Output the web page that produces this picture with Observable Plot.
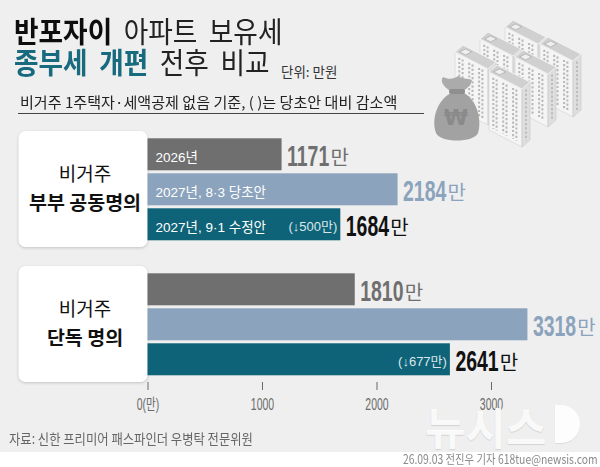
<!DOCTYPE html>
<html><head><meta charset="utf-8">
<script src="https://cdn.jsdelivr.net/npm/d3@7"></script>
<script src="https://cdn.jsdelivr.net/npm/@observablehq/plot@0.6"></script>
<style>
body{margin:0;background:#efefef}
#wrap{position:relative;width:600px;height:467px;background:#efefef;overflow:hidden;font-family:"Noto Sans CJK KR","Noto Sans",sans-serif}
.abs{position:absolute;white-space:nowrap}
#t1,#t2{left:14px;font-size:29px;line-height:29px;word-spacing:6px;color:#222;transform:scaleX(.92);transform-origin:0 0}
#t1{top:16.2px}
#t2{top:47.4px}
#unit{left:281px;top:64.8px;font-size:13.5px;line-height:13.5px;color:#333}
#sub{left:19.5px;top:94.8px;font-size:14.5px;line-height:14.5px;transform:scaleX(1.04);transform-origin:0 0;color:#222}
#rule{left:18px;top:113px;width:406px;height:1.4px;background:#444}
#source{left:9px;top:431px;font-size:14px;line-height:14px;transform:scaleX(.88);transform-origin:0 0;color:#666}
#band{left:0;top:452px;width:600px;height:15px;background:#fff}
#foot{right:2px;top:453.3px;font-size:12.5px;line-height:12.5px;transform:scaleX(.83);transform-origin:100% 0;color:#8a8a8a}
#wm{left:425px;top:403.5px;font-size:44px;line-height:44px;font-weight:700;color:rgba(255,255,255,.88);text-shadow:0 1px 1px rgba(0,0,0,.12)}
#wmd{left:555px;top:405px;width:25px;height:38px;background:rgba(255,255,255,.88);border-radius:0 19px 19px 0;box-shadow:0 1px 1px rgba(0,0,0,.08)}
</style></head><body>
<div id="wrap">
  <svg id="art" class="abs" style="left:0;top:0" width="600" height="150"></svg>
  <div id="t1" class="abs"><b style="font-weight:700;color:#0d0d0d">반포자이</b> 아파트 보유세</div>
  <div id="t2" class="abs"><b style="font-weight:700;color:#186a7e">종부세 개편</b> 전후 비교</div>
  <div id="unit" class="abs">단위: 만원</div>
  <div id="sub" class="abs">비거주 1주택자·세액공제 없음 기준, ( )는 당초안 대비 감소액</div>
  <div id="rule" class="abs"></div>
  <div id="chart" class="abs" style="left:0;top:120px"></div>
  <div id="source" class="abs">자료: 신한 프리미어 패스파인더 우병탁 전문위원</div>
  <div id="band" class="abs"></div>
  <div id="foot" class="abs">26.09.03 전진우 기자 618tue@newsis.com</div>
  <div id="wm" class="abs">뉴시스</div>
  <div id="wmd" class="abs"></div>
</div>
<script>
// ---------- data ----------
const groups = ["부부 공동명의", "단독 명의"];
const groupPrefix = ["비거주", "비거주"];
const series = ["2026년", "2027년, 8·3 당초안", "2027년, 9·1 수정안"];
const jointValues = [1171, 2184, 1684];
const singleValues = [1810, 3318, 2641];
const cutFromDraft = [500, 677];
const xTicks = [0, 1000, 2000, 3000];
const unit = "만";

// ---------- styles ----------
const barColors = ["#6f6f6f", "#8ba3bc", "#0e6378"];
const valueColors = ["#6f6f6f", "#8ba3bc", "#111111"];
const NUM_SQUEEZE = 0.67;

const rows = [];
[jointValues, singleValues].forEach((vals, gi) =>
  vals.forEach((v, si) => rows.push({group: groups[gi], gi, series: series[si], si, value: v})));
const seriesRows = rows.filter(d => d.gi === 0);
const cutRows = groups.map((g, gi) => ({group: g, series: series[2], value: rows.find(d => d.gi === gi && d.si === 2).value, cut: cutFromDraft[gi]}));
const groupRows = groups.map((g, i) => ({group: g, prefix: groupPrefix[i]}));

const KR = "'Noto Sans CJK KR', sans-serif";
const NUM = "'Liberation Sans', 'Noto Sans CJK KR', sans-serif";

const chart = Plot.plot({
  width: 600, height: 300,
  marginLeft: 147.5, marginRight: 0, marginTop: 10.7, marginBottom: 37.7,
  x: {domain: [0, 3952], label: null},
  y: {domain: series, paddingInner: 0.087, paddingOuter: 0.1755, axis: null},
  fy: {domain: groups, paddingInner: 0.142, paddingOuter: 0, axis: null},
  color: {type: "identity"},
  style: {fontFamily: NUM, background: "transparent", overflow: "visible"},
  marks: [
    Plot.rect(groupRows, {fy: "group", x1: 0, x2: 0, insetLeft: -129, fill: "white", rx: 7, ariaDescription: "box"}),
    Plot.barX(rows, {fy: "group", y: "series", x: "value", fill: d => barColors[d.si]}),
    Plot.text(seriesRows, {fy: "group", y: "series", x: 0, text: "series", textAnchor: "start", dx: 7.5, dy: 2.5, fill: "white", fontSize: 13.5, fontFamily: NUM}),
    Plot.text(cutRows, {fy: "group", y: "series", x: "value", text: d => `(↓${d.cut}${unit})`, textAnchor: "end", dx: -3.5, dy: 2, fill: "#dbe7eb", fontSize: 13, fontFamily: NUM}),
    Plot.text(rows, {fy: "group", y: "series", x: "value", text: d => String(d.value), textAnchor: "start", dx: 5, dy: 1.5, fill: d => valueColors[d.si], fontSize: 29, fontWeight: 700, fontFamily: NUM, ariaDescription: "valnum"}),
    Plot.text(rows, {fy: "group", y: "series", x: "value", text: () => unit, textAnchor: "start", dx: 5, dy: 4.2, fill: d => valueColors[d.si], fontSize: 20, fontFamily: KR, ariaDescription: "valunit"}),
    Plot.text(groupRows, {fy: "group", x: 0, text: "prefix", dx: -63, dy: -14.4, fontSize: 19, fill: "#111", fontFamily: KR}),
    Plot.text(groupRows, {fy: "group", x: 0, text: "group", dx: -63, dy: 14.6, fontSize: 19.5, fontWeight: 700, fill: "#111", fontFamily: KR}),
    Plot.axisX(xTicks, {tickSize: 8, tickPadding: 7.7, fontSize: 16, color: "#6a6a6a", tickFormat: d => d === 0 ? `0(${unit})` : `${d}`, label: null})
  ]
});
document.getElementById("chart").appendChild(chart);

function squeeze(nodes, s) {
  nodes.forEach(t => {
    const tr = t.getAttribute("transform") || "";
    t.setAttribute("transform", `${tr} scale(${s},1)`);
  });
}
const nums = [...chart.querySelectorAll('g[aria-description="valnum"] text')];
const units = [...chart.querySelectorAll('g[aria-description="valunit"] text')];
units.forEach((u, i) => {
  const n = nums[i];
  if (!n) return;
  const wNum = n.getComputedTextLength() * NUM_SQUEEZE;
  u.setAttribute("transform", `${u.getAttribute("transform") || ""} translate(${wNum + 1.2},0)`);
});
squeeze(nums, NUM_SQUEEZE);
squeeze(chart.querySelectorAll('g[aria-label="x-axis tick label"] text'), 0.655);
chart.querySelectorAll('g[aria-description="box"]').forEach(g => g.style.filter = "drop-shadow(0 1px 1.5px rgba(0,0,0,0.18))");

// ---------- decorative illustration ----------
const art = document.getElementById("art");
const NS = "http://www.w3.org/2000/svg";
function el(tag, attrs, parent = art) { const e = document.createElementNS(NS, tag); for (const k in attrs) e.setAttribute(k, attrs[k]); parent.appendChild(e); return e; }
const pts = a => a.map(p => p.join(",")).join(" ");
function tower(tx, ty, h) {
  const R = [33, 17], F = [-8, 7];
  const T = [tx, ty], TR = [tx + R[0], ty + R[1]], TF = [tx + F[0], ty + F[1]], TRF = [tx + R[0] + F[0], ty + R[1] + F[1]];
  const dn = p => [p[0], p[1] + h];
  el("polygon", {points: pts([TF, TRF, dn(TRF), dn(TF)]), fill: "#f5f5f5", stroke: "#d2d2d2", "stroke-width": 0.6});
  el("polygon", {points: pts([TRF, TR, dn(TR), dn(TRF)]), fill: "#dedede", stroke: "#c8c8c8", "stroke-width": 0.6});
  el("polygon", {points: pts([T, TR, TRF, TF]), fill: "#d0d0d0", stroke: "#f7f7f7", "stroke-width": 0.8});
  [0.1, 0.2, 0.4, 0.5, 0.7, 0.8].forEach(t => {
    const x = TF[0] + R[0] * t + 1, y = TF[1] + R[1] * t;
    el("line", {x1: x, y1: y + 4, x2: x, y2: y + h - 3, stroke: "#b8b8b8", "stroke-width": 2, "stroke-dasharray": "2.2 2"});
  });
  const x2 = TRF[0] - F[0] * 0.5, y2 = TRF[1] - F[1] * 0.5;
  el("line", {x1: x2, y1: y2 + 4, x2: x2, y2: y2 + h - 3, stroke: "#bdbdbd", "stroke-width": 2, "stroke-dasharray": "2.2 2"});
  const c = [tx + R[0] * 0.2 + F[0] * 0.5, ty + R[1] * 0.2 + F[1] * 0.5];
  el("polygon", {points: pts([[c[0], c[1] - 3], [c[0] + 6, c[1]], [c[0], c[1] + 3], [c[0] - 6, c[1]]]), fill: "#efefef", stroke: "#a8a8a8", "stroke-width": 0.7});
}
[[513, 20, 76], [548, 37, 56], [488, 32, 74], [523, 50, 53], [463, 45, 56], [497, 65, 58]].forEach(t => tower(...t));
el("path", {d: "M451 93 C437 100 431 120 436 133 C440 143 474 143 478 133 C482 120 477 100 464 93 Z", fill: "#a2a2a2"});
el("path", {d: "M451 91 C443 87 440 81 443 77 C449 80 454 79 458 76 C462 79 467 78 472 80 C471 85 468 88 463 91 Z", fill: "#ababab"});
el("rect", {x: 449, y: 89, width: 16, height: 5, rx: 2, fill: "#8f8f8f"});
const w = el("text", {x: 456, y: 125, "text-anchor": "middle", "font-size": 22, "font-weight": 700, fill: "#8a8a8a", "font-family": "'DejaVu Sans', sans-serif"});
w.textContent = "₩";
</script>
</body></html>
